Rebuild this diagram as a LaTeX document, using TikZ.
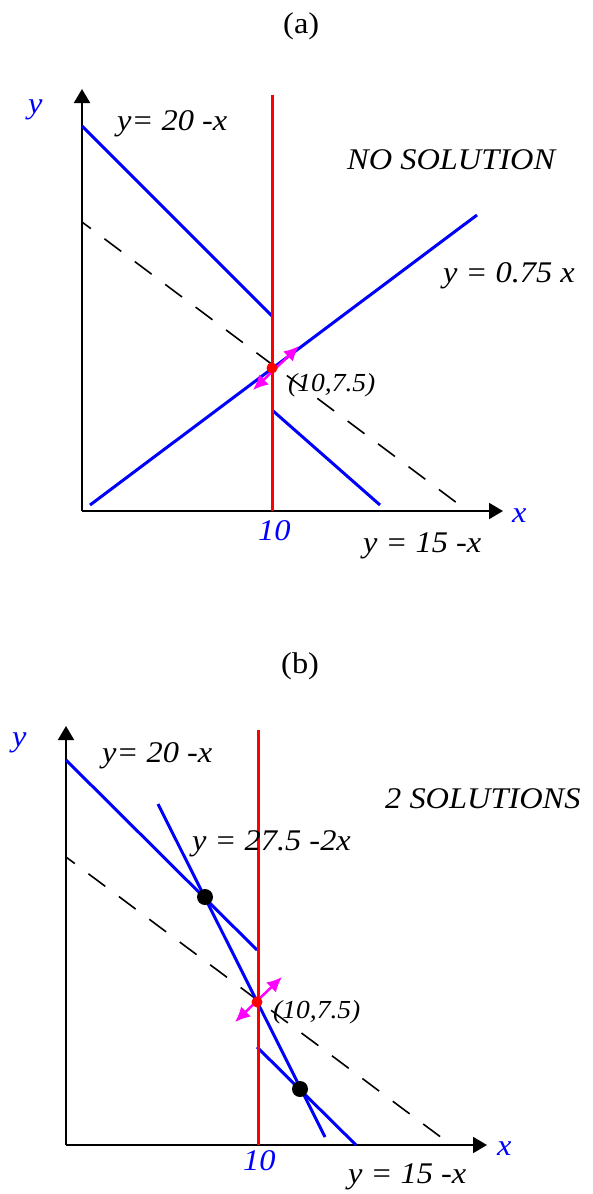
\documentclass[tikz,border=0pt]{standalone}
\usepackage{fontspec}
\setmainfont{Liberation Serif}
\usetikzlibrary{arrows.meta}
\definecolor{mag}{RGB}{255,0,255}

\begin{document}
\begin{tikzpicture}[x=1pt,y=-1pt,
    axis/.style={line width=2pt,-{Triangle[length=14pt,width=16pt]}},
    budget/.style={blue,line width=3pt},
    cap10/.style={red,line width=3pt},
    iso/.style={line width=1.6pt,dash pattern=on 21pt off 17pt,dash phase=10pt},
    move/.style={mag,line width=2.5pt,{Latex[length=15pt,width=14pt]}-{Latex[length=15pt,width=14pt]}},
    lbl/.style={font=\fontsize{30}{32}\selectfont\itshape,anchor=base west,inner sep=0pt,xscale=1.08,transform shape},
    small/.style={lbl,font=\fontsize{26}{28}\selectfont\itshape,xscale=0.98},
    axlbl/.style={lbl,text=blue}]
    \useasboundingbox (0,0) rectangle (592,1194);
    % panel (a)
    \coordinate (oa) at (82,511); \coordinate (ya) at (82,89);
    \coordinate (xa) at (503,511);
    \coordinate (ra1) at (272,95); \coordinate (ra2) at (272,511);
    \coordinate (ba1) at (82,126); \coordinate (ba2) at (272,316);
    \coordinate (ba3) at (272,410); \coordinate (ba4) at (380,505);
    \coordinate (la1) at (90,505); \coordinate (la2) at (477,215);
    \coordinate (da1) at (82,222); \coordinate (da2) at (465,509);
    \coordinate (ma1) at (253,390); \coordinate (ma2) at (299,346);
    \coordinate (pa) at (272,368);
    \draw[axis] (oa) -- (ya); \draw[axis] (oa) -- (xa);
    \draw[iso] (da1) -- (da2);
    \draw[budget] (ba1) -- (ba2); \draw[budget] (ba3) -- (ba4);
    \draw[budget] (la1) -- (la2);
    \draw[cap10] (ra1) -- (ra2);
    \draw[move] (ma1) -- (ma2);
    \fill[red] (pa) circle (5.5pt);
    \node[lbl,font=\fontsize{30}{32}\selectfont] (ta) at (283,33) {(a)};
    \node[axlbl] (yla) at (28,113) {y};
    \node[axlbl] (xla) at (512,522) {x};
    \node[axlbl] (tena) at (258,540) {10};
    \node[lbl] (ea1) at (117,130) {y= 20 -x};
    \node[lbl] (ea2) at (347,169) {NO SOLUTION};
    \node[lbl] (ea3) at (443,282) {y = 0.75 x};
    \node[small] (pta) at (288,391) {(10,7.5)};
    \node[lbl] (ea4) at (363,552) {y = 15 -x};
    % panel (b)
    \coordinate (ob) at (66,1145); \coordinate (yb) at (66,726);
    \coordinate (xb) at (487,1145);
    \coordinate (rb1) at (258,730); \coordinate (rb2) at (258,1145);
    \coordinate (bb1) at (66,760); \coordinate (bb2) at (257,950);
    \coordinate (bb3) at (257,1047); \coordinate (bb4) at (356,1145);
    \coordinate (sb1) at (158,804); \coordinate (sb2) at (325,1137);
    \coordinate (db1) at (66,857); \coordinate (db2) at (450,1144);
    \coordinate (mb1) at (235,1022); \coordinate (mb2) at (282,977);
    \coordinate (pb) at (257,1002);
    \coordinate (sol1) at (205,897); \coordinate (sol2) at (300,1089);
    \draw[axis] (ob) -- (yb); \draw[axis] (ob) -- (xb);
    \draw[iso] (db1) -- (db2);
    \draw[budget] (bb1) -- (bb2); \draw[budget] (bb3) -- (bb4);
    \draw[budget] (sb1) -- (sb2);
    \draw[cap10] (rb1) -- (rb2);
    \draw[move] (mb1) -- (mb2);
    \fill[red] (pb) circle (5.5pt);
    \foreach \p in {sol1,sol2} { \fill (\p) circle (8pt); }
    \node[lbl,font=\fontsize{30}{32}\selectfont] (tb) at (281,673) {(b)};
    \node[axlbl] (ylb) at (12,746) {y};
    \node[axlbl] (xlb) at (497,1155) {x};
    \node[axlbl] (tenb) at (243,1170) {10};
    \node[lbl] (eb1) at (102,762) {y= 20 -x};
    \node[lbl] (eb2) at (385,808) {2 SOLUTIONS};
    \node[lbl] (eb3) at (192,850) {y = 27.5 -2x};
    \node[small] (ptb) at (273,1018) {(10,7.5)};
    \node[lbl] (eb4) at (348,1183) {y = 15 -x};
\end{tikzpicture}
\end{document}
